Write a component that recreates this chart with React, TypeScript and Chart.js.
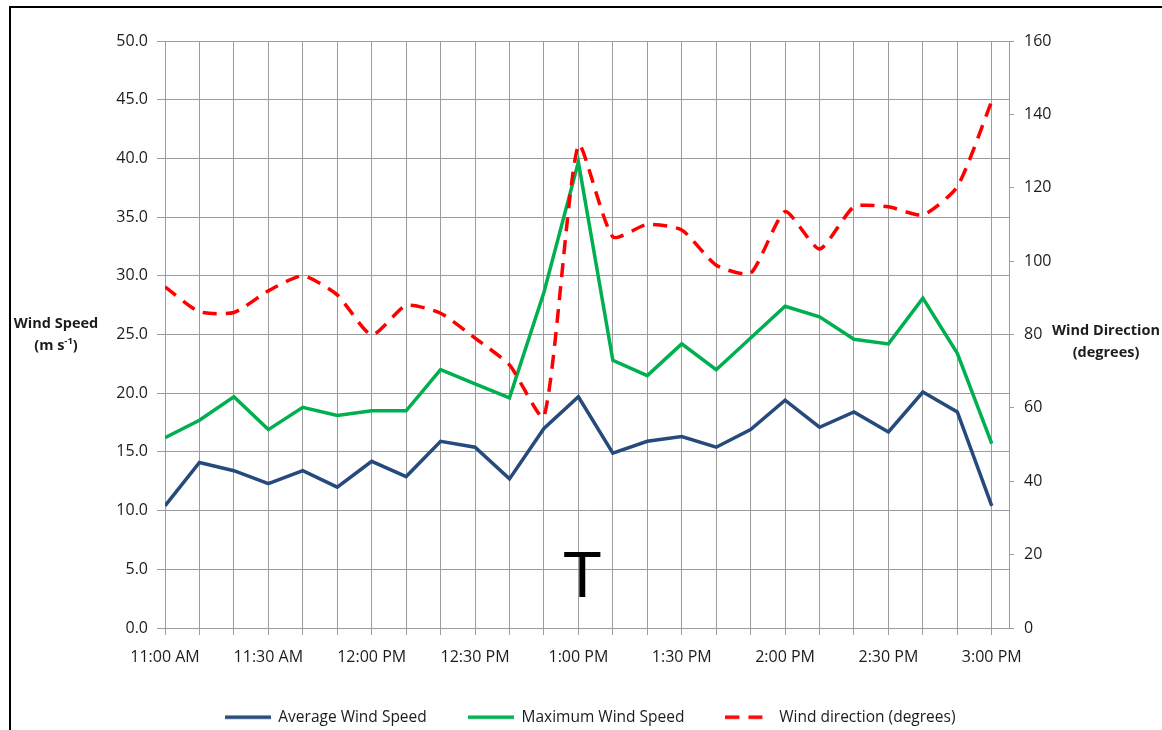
import React, { useEffect, useRef } from 'react';
import { Chart, registerables } from 'chart.js';

Chart.register(...registerables);

const timeLabels = [
  '11:00 AM', '11:10 AM', '11:20 AM', '11:30 AM', '11:40 AM', '11:50 AM',
  '12:00 PM', '12:10 PM', '12:20 PM', '12:30 PM', '12:40 PM', '12:50 PM',
  '1:00 PM', '1:10 PM', '1:20 PM', '1:30 PM', '1:40 PM', '1:50 PM',
  '2:00 PM', '2:10 PM', '2:20 PM', '2:30 PM', '2:40 PM', '2:50 PM', '3:00 PM',
];

const averageWindSpeed = [
  10.4, 14.1, 13.4, 12.3, 13.4, 12.0, 14.2, 12.9, 15.9, 15.4, 12.7, 17.0,
  19.7, 14.9, 15.9, 16.3, 15.4, 16.9, 19.4, 17.1, 18.4, 16.7, 20.1, 18.4, 10.4,
];

const maximumWindSpeed = [
  16.2, 17.7, 19.7, 16.9, 18.8, 18.1, 18.5, 18.5, 22.0, 20.8, 19.6, 28.6,
  39.7, 22.8, 21.5, 24.2, 22.0, 24.7, 27.4, 26.5, 24.6, 24.2, 28.1, 23.4, 15.7,
];

const windDirection = [
  93.0, 86.2, 86.0, 91.9, 96.0, 90.8, 79.9, 87.9, 85.8, 79.0, 71.7, 57.6,
  131.6, 106.6, 110.0, 108.5, 98.9, 96.7, 113.5, 103.3, 114.8, 114.8, 112.6, 120.3, 143.6,
];

const speedAxis = { min: 0, max: 50, step: 5 };
const directionAxis = { min: 0, max: 160, step: 20 };
const labelEvery = 3;
const markerTime = '1:00 PM';
const markerText = 'T';
const markerBaseValue = 2.64;

const GRID = '#9c9c9c';
const TEXT = '#1c1c1c';
const FONT = 'Open Sans';
const LEGEND_LINE = 46;

const toPoints = (vals: number[]) => vals.map((v, i) => ({ x: i, y: v }));

function legendGlyph(color: string, width: number, dash: number[] | undefined) {
  const c = document.createElement('canvas');
  c.width = LEGEND_LINE;
  c.height = 8;
  const g = c.getContext('2d');
  if (g) {
    g.strokeStyle = color;
    g.lineWidth = width;
    g.setLineDash(dash || []);
    g.beginPath();
    g.moveTo(0, 4);
    g.lineTo(LEGEND_LINE, 4);
    g.stroke();
  }
  return c;
}

const textPlugin = {
  id: 'extraText',
  afterDatasetsDraw(chart: any) {
    const { ctx, scales } = chart;
    const idx = timeLabels.indexOf(markerTime);
    const x = scales.x.getPixelForValue(idx) + 4;
    const y = scales.y.getPixelForValue(markerBaseValue);
    ctx.save();
    ctx.font = '64px "Liberation Sans"';
    ctx.fillStyle = '#000';
    ctx.textAlign = 'center';
    ctx.textBaseline = 'alphabetic';
    ctx.fillText(markerText, x, y);
    ctx.restore();
  },
  afterDraw(chart: any) {
    const { ctx } = chart;
    ctx.save();
    ctx.fillStyle = TEXT;
    ctx.textBaseline = 'middle';
    ctx.textAlign = 'center';
    const bold = `bold 14.5px "${FONT}"`;
    ctx.font = bold;
    ctx.fillText('Wind Speed', 56, 324);
    const p1 = '(m s';
    const sup = '-1';
    const p3 = ')';
    const supFont = `bold 9.5px "${FONT}"`;
    ctx.font = bold;
    const w1 = ctx.measureText(p1).width;
    const w3 = ctx.measureText(p3).width;
    ctx.font = supFont;
    const w2 = ctx.measureText(sup).width;
    let sx = 56 - (w1 + w2 + w3) / 2;
    ctx.textAlign = 'left';
    ctx.font = bold;
    ctx.fillText(p1, sx, 346);
    sx += w1;
    ctx.font = supFont;
    ctx.fillText(sup, sx, 341);
    sx += w2;
    ctx.font = bold;
    ctx.fillText(p3, sx, 346);

    ctx.textAlign = 'center';
    ctx.fillText('Wind Direction', 1106, 331);
    ctx.fillText('(degrees)', 1106, 353);
    ctx.restore();
  },
};

export default function App() {
  const ref = useRef<HTMLCanvasElement>(null);

  useEffect(() => {
    document.body.style.margin = '0';
    document.body.style.overflow = 'hidden';
    const canvas = ref.current;
    if (!canvas) return;
    const chart = new Chart(canvas, {
      type: 'line',
      data: {
        datasets: [
          {
            label: 'Average Wind Speed',
            data: toPoints(averageWindSpeed),
            borderColor: '#254A7B',
            backgroundColor: '#254A7B',
            borderWidth: 3.5,
            pointRadius: 0,
            tension: 0,
            yAxisID: 'y',
            order: 2,
          },
          {
            label: 'Maximum Wind Speed',
            data: toPoints(maximumWindSpeed),
            borderColor: '#00B050',
            backgroundColor: '#00B050',
            borderWidth: 3.5,
            pointRadius: 0,
            tension: 0,
            yAxisID: 'y',
            order: 1,
          },
          {
            label: 'Wind direction (degrees)',
            data: toPoints(windDirection),
            borderColor: '#FF0000',
            backgroundColor: '#FF0000',
            borderWidth: 3.5,
            borderDash: [14, 9],
            pointRadius: 0,
            tension: 0.2,
            yAxisID: 'y2',
            order: 0,
          },
        ],
      },
      options: {
        animation: false,
        responsive: false,
        maintainAspectRatio: false,
        layout: { padding: { left: 18, top: 41, right: 0, bottom: 0 } },
        plugins: {
          tooltip: { enabled: false },
          title: { display: false },
          legend: {
            position: 'bottom',
            labels: {
              usePointStyle: true,
              pointStyleWidth: LEGEND_LINE,
              padding: 41,
              color: TEXT,
              font: { family: FONT, size: 15.5 },
              sort: (a: any, b: any) => a.datasetIndex - b.datasetIndex,
              generateLabels: (ch: any) => {
                const base = (Chart as any).defaults.plugins.legend.labels.generateLabels(ch);
                return base.map((it: any) => {
                  const ds = ch.data.datasets[it.datasetIndex];
                  return {
                    ...it,
                    pointStyle: legendGlyph(ds.borderColor, ds.borderWidth, ds.borderDash),
                  };
                });
              },
            },
          },
        },
        scales: {
          x: {
            type: 'linear',
            min: 0,
            max: timeLabels.length - 0.5,
            afterFit: (s: any) => { s.height = 40.5; },
            grid: { color: GRID, lineWidth: 1, tickLength: 7, drawTicks: true },
            border: { color: GRID },
            ticks: {
              stepSize: 1,
              includeBounds: false,
              autoSkip: false,
              maxRotation: 0,
              minRotation: 0,
              padding: 13,
              color: TEXT,
              font: { family: FONT, size: 16 },
              callback: (v: any) => {
                const i = Math.round(Number(v));
                return i % labelEvery === 0 && timeLabels[i] ? timeLabels[i] : '';
              },
            },
          },
          y: {
            position: 'left',
            min: speedAxis.min,
            max: speedAxis.max,
            afterFit: (s: any) => { s.width = 147; },
            grid: { color: GRID, lineWidth: 1, tickLength: 8 },
            border: { color: GRID },
            ticks: {
              stepSize: speedAxis.step,
              padding: 9,
              color: TEXT,
              font: { family: FONT, size: 16 },
              callback: (v: any) => Number(v).toFixed(1),
            },
          },
          y2: {
            position: 'right',
            min: directionAxis.min,
            max: directionAxis.max,
            afterFit: (s: any) => { s.width = 153; },
            grid: { drawOnChartArea: false, color: GRID, lineWidth: 1, tickLength: 5 },
            border: { color: GRID },
            ticks: {
              stepSize: directionAxis.step,
              padding: 10,
              color: TEXT,
              font: { family: FONT, size: 16 },
            },
          },
        },
      },
      plugins: [textPlugin],
    } as any);
    return () => chart.destroy();
  }, []);

  return (
    <div style={{ position: 'relative', width: 1162, height: 730, overflow: 'hidden', background: '#fff' }}>
      <canvas ref={ref} width={1162} height={735} style={{ display: 'block', width: 1162, height: 735 }} />
      <div
        style={{
          position: 'absolute', left: 9, top: 6, width: 1200, height: 800,
          borderLeft: '2.5px solid #000', borderTop: '2.5px solid #000', pointerEvents: 'none',
        }}
      />
    </div>
  );
}
